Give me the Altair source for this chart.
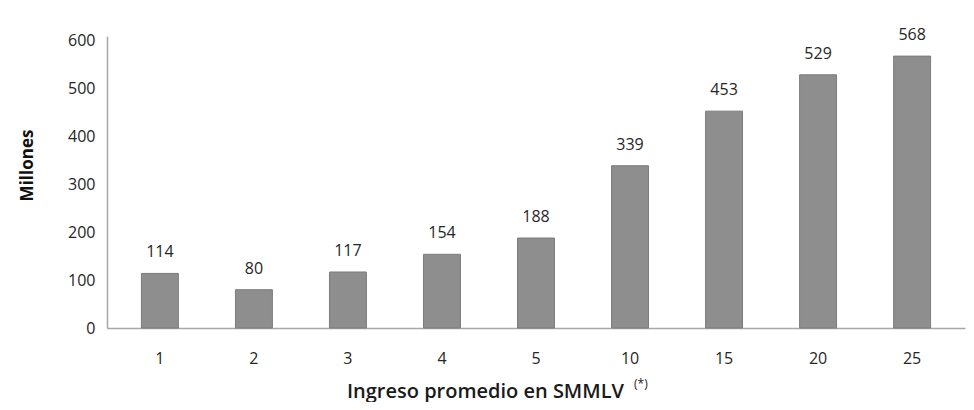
import altair as alt
import pandas as pd

categories = ["1", "2", "3", "4", "5", "10", "15", "20", "25"]
values = [114, 80, 117, 154, 188, 339, 453, 529, 568]

df = pd.DataFrame({"cat": categories, "val": values})

FONT = "Open Sans"

x_enc = alt.X(
    "cat:N",
    sort=categories,
    scale=alt.Scale(paddingInner=0.607, paddingOuter=0.366),
    axis=alt.Axis(
        title="Ingreso promedio en SMMLV",
        labelAngle=0,
        ticks=False,
        labelPadding=22,
        labelFontSize=16,
        labelColor="#262626",
        labelFont=FONT,
        domainColor="#a6a6a6",
        domainWidth=1.5,
        titleFont=FONT,
        titleFontSize=20,
        titleFontWeight=600,
        titleColor="#1a1a1a",
        titleX=378,
        titleY=69,
        titleAlign="center",
        titleBaseline="alphabetic",
    ),
)

y_enc = alt.Y(
    "val:Q",
    scale=alt.Scale(domain=[0, 610], nice=False),
    axis=alt.Axis(
        title="Millones",
        values=[0, 100, 200, 300, 400, 500, 600],
        grid=False,
        ticks=False,
        labelPadding=12,
        labelFontSize=16,
        labelColor="#262626",
        labelFont=FONT,
        domainColor="#a6a6a6",
        domainWidth=1.5,
        titleFont=FONT,
        titleFontSize=17,
        titleFontWeight="bold",
        titleColor="#111111",
        titleX=-80,
        titleY=129,
        titleAngle=-90,
        titleAlign="center",
        titleBaseline="middle",
    ),
)

base = alt.Chart(df)

bars = base.mark_bar(color="#8e8e8e", stroke="#7c7c7c", strokeWidth=1).encode(x=x_enc, y=y_enc)

labels = base.mark_text(
    font=FONT, fontSize=16, color="#262626", baseline="alphabetic", dy=-16
).encode(x=alt.X("cat:N", sort=categories), y="val:Q", text="val:Q")

star = alt.Chart(pd.DataFrame({"t": ["(*)"]})).mark_text(
    font=FONT, fontSize=12, color="#1a1a1a", align="left", baseline="alphabetic"
).encode(x=alt.value(527), y=alt.value(352), text="t:N")

chart = (
    alt.layer(bars, labels, star)
    .properties(
        width=858,
        height=292,
        autosize=alt.AutoSizeParams(type="none"),
        padding={"left": 99, "top": 28, "right": 1, "bottom": 74},
        background="white",
    )
    .configure_view(stroke=None)
)

chart.save("out.html", embed_options={"renderer": "svg", "actions": False})
